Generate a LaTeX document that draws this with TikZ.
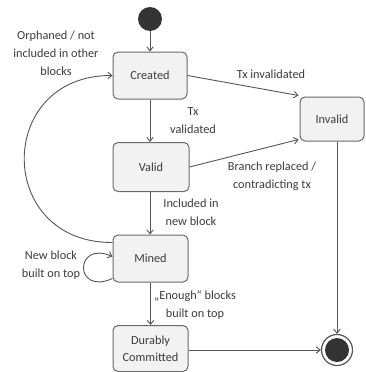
\documentclass[tikz,border=0pt]{standalone}
\usepackage{fontspec}
\setmainfont{Carlito}
\usetikzlibrary{arrows.meta,calc}
\definecolor{lineC}{HTML}{555555}
\definecolor{boxFill}{HTML}{F2F2F2}
\definecolor{boxLine}{HTML}{6A6A6A}
\definecolor{txtC}{HTML}{3C3C3C}
\definecolor{dotC}{HTML}{333333}
\begin{document}
\begin{tikzpicture}[x=1pt,y=-1pt,
  font=\fontsize{12.3}{18}\selectfont,
  statebox/.style={draw=boxLine, line width=1pt, fill=boxFill, rounded corners=5pt,
    inner sep=0pt, align=center, text=txtC},
  lbl/.style={align=center, text=txtC, inner sep=0pt},
  conn/.style={draw=lineC, line width=0.9pt, -{Straight Barb[length=4pt,width=6.5pt]}}]
\useasboundingbox (0,0) rectangle (366,372);
\node[circle, fill=dotC, minimum size=24pt, inner sep=0pt] (start) at (150,19) {};
\node[statebox, minimum width=74pt, minimum height=47pt] (created) at (150,75.5) {Created};
\node[statebox, minimum width=64pt, minimum height=44pt] (invalid) at (332,119) {Invalid};
\node[statebox, minimum width=76pt, minimum height=49pt] (valid) at (151,167) {Valid};
\node[statebox, minimum width=75pt, minimum height=47pt] (mined) at (150.5,258.5) {Mined};
\node[statebox, minimum width=75pt, minimum height=46pt, font=\fontsize{12.3}{17}\selectfont] (durably) at (150.5,348.5) {Durably\\Committed};
\node[circle, draw=lineC, line width=1.2pt, minimum size=31pt, inner sep=0pt] (end) at (337,350) {};
\fill[dotC] (end.center) circle (12pt);
% connectors
\draw[conn] (start) -- (created);
\draw[conn] (created) -- (created |- valid.north);
\draw[conn] (valid.south -| created) -- (mined.north -| created);
\draw[conn] (mined) -- (durably);
\draw[conn] (created.east) -- ($(invalid.north west)+(-1,-1)$);
\draw[conn] (valid.east) -- ($(invalid.south west)+(-1,-2)$);
\draw[conn] (invalid.south -| end) -- (end.north);
\draw[conn] (durably.east |- end) -- (end.west);
\draw[conn] ($(mined.west)+(0,-16)$) .. controls (-5,243) and (-5,75) .. (created.west);
\draw[conn] ($(mined.west)+(0,20)$) .. controls (74,296) and (74,240) .. ($(mined.west)+(0,-2)$);
% labels
\node[lbl] (l1) at (56,53) {Orphaned / not\\included in other\\blocks};
\node[lbl] (l2) at (271,74) {Tx invalidated};
\node[lbl] (l3) at (193,121) {Tx\\validated};
\node[lbl] (l4) at (272,176) {Branch replaced /\\contradicting tx};
\node[lbl] (l5) at (191,212) {Included in\\new block};
\node[lbl] (l6) at (51,265) {New block\\built on top};
\node[lbl] (l7) at (195,305) {„Enough“ blocks\\built on top};
\end{tikzpicture}
\end{document}
